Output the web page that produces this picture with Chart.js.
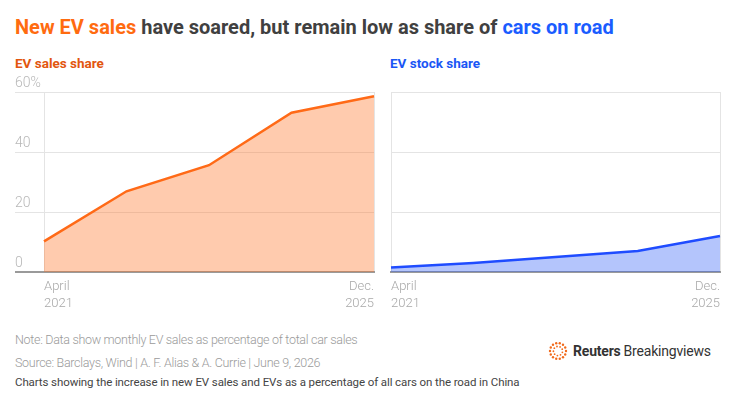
<!DOCTYPE html>
<html>
<head>
<meta charset="utf-8">
<script src="https://cdn.jsdelivr.net/npm/chart.js@4.4.1/dist/chart.umd.min.js"></script>
<style>
body { margin: 0; width: 740px; height: 402px; background: #fff; position: relative; overflow: hidden;
	font-family: Roboto, sans-serif; }
.t { position: absolute; white-space: nowrap; }
#title { left: 15px; top: 15px; font-size: 20px; font-weight: bold; color: #404040; }
#title .o { color: #ff6b10; }
#title .b { color: #1a5cff; }
.sub { top: 55px; font-size: 13.5px; font-weight: bold; }
#subL { left: 15px; color: #e2560f; }
#subR { left: 390px; color: #1a56f5; }
.box { position: absolute; top: 70px; }
#note, #source { left: 15px; font-size: 12.5px; letter-spacing: -0.3px; color: #9a9a9a; font-weight: 300; }
#note { top: 332px; }
#source { top: 355px; }
#desc { left: 15px; top: 375px; font-size: 11.5px; letter-spacing: -0.1px; color: #444; }
#logo { left: 548px; top: 341px; font-size: 14px; color: #333; display: flex; align-items: center; letter-spacing: -0.2px; }
#logo b { margin-left: 5px; margin-right: 3px; }
</style>
</head>
<body>
<div class="t" id="title"><span class="o">New EV sales</span> have soared, but remain low as share of <span class="b">cars on road</span></div>
<div class="t sub" id="subL">EV sales share</div>
<div class="t sub" id="subR">EV stock share</div>
<div class="box" style="left:0"><canvas id="salesChart" width="380" height="245"></canvas></div>
<div class="box" style="left:380px"><canvas id="stockChart" width="360" height="245"></canvas></div>
<div class="t" id="note">Note: Data show monthly EV sales as percentage of total car sales</div>
<div class="t" id="source">Source: Barclays, Wind | A. F. Alias &amp; A. Currie | June 9, 2026</div>
<div class="t" id="desc">Charts showing the increase in new EV sales and EVs as a percentage of all cars on the road in China</div>
<div class="t" id="logo">
	<svg width="20" height="20" viewBox="-10 -10 20 20" id="logoIcon"></svg>
	<b>Reuters</b><span>Breakingviews</span>
</div>
<script>
Chart.defaults.font.family = "Roboto, sans-serif"

// x categories: only first and last are labelled in the original
const periods = [["April", "2021"], "", "", "", ["Dec.", "2025"]]
const salesShare = [10.2, 26.9, 35.6, 53.1, 58.6]   // % of monthly car sales
const stockShare = [1.5, 3.0, 5.0, 7.0, 12.0]       // % of cars on road
const yMax = 60
const yStep = 20

// logo dots
const svg = document.getElementById("logoIcon")
let dots = ""
for (let i = 0; i < 14; i++) {
	const a = i / 14 * 2 * Math.PI
	dots += `<circle cx="${(8 * Math.cos(a)).toFixed(2)}" cy="${(8 * Math.sin(a)).toFixed(2)}" r="1.2" fill="#f26a1b"/>`
}
for (let i = 0; i < 9; i++) {
	const a = i / 9 * 2 * Math.PI + .3
	dots += `<circle cx="${(4.6 * Math.cos(a)).toFixed(2)}" cy="${(4.6 * Math.sin(a)).toFixed(2)}" r="0.9" fill="#f26a1b"/>`
}
svg.innerHTML = dots

const makeChart = (id, values, lineColor, fillColor, showY, pad) => {
	const n = values.length
	return new Chart(document.getElementById(id), {
		type: "line",
		data: {
			labels: periods,
			datasets: [{
				data: values,
				borderColor: lineColor,
				backgroundColor: fillColor,
				borderWidth: 2.5,
				fill: "origin",
				tension: 0,
				pointRadius: 0,
			}]
		},
		options: {
			responsive: false,
			animation: false,
			layout: { padding: pad },
			plugins: { legend: { display: false }, tooltip: { enabled: false } },
			scales: {
				x: {
					z: 1,
					grid: {
						drawTicks: false,
						color: c => (c.index === 0 || c.index === n - 1) ? "#e4e4e4" : "rgba(0,0,0,0)",
					},
					border: { display: true, color: "#9a9a9a", width: 2 },
					ticks: {
						autoSkip: false, maxRotation: 0, align: "inner", padding: 6,
						color: "#a8a8a8", font: { size: 13, weight: 300, lineHeight: 1.3 },
					},
					afterFit: s => { s.height = 43 },
				},
				y: {
					min: 0, max: yMax,
					border: { display: false },
					grid: {
						drawTicks: showY,
						tickLength: 29,
						color: c => c.tick.value === 0 ? "#9a9a9a" : "#e4e4e4",
						lineWidth: c => c.tick.value === 0 ? 2 : 1,
					},
					ticks: {
						display: showY,
						stepSize: yStep,
						crossAlign: "far",
						labelOffset: -9,
						padding: 0,
						color: "#b8b8b8",
						font: { size: 14, weight: 300 },
						callback: v => v === yMax ? v + "%" : v,
					},
					afterFit: s => { s.width = showY ? 29 : 0 },
				}
			}
		}
	})
}

makeChart("salesChart", salesShare, "#ff6a17", "rgba(255,110,30,0.36)", true,
	{ left: 15, right: 6, top: 22, bottom: 0 })
makeChart("stockChart", stockShare, "#1f4cff", "rgba(35,85,245,0.34)", false,
	{ left: 11, right: 20, top: 22, bottom: 0 })
</script>
</body>
</html>
